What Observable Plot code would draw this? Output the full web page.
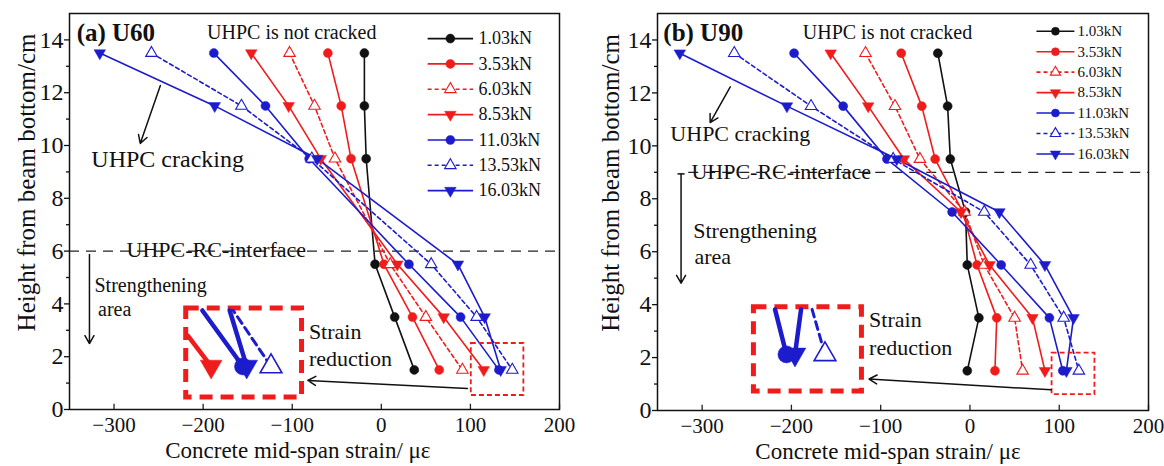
<!DOCTYPE html>
<html><head><meta charset="utf-8">
<script src="https://cdn.jsdelivr.net/npm/d3@7"></script>
<script src="https://cdn.jsdelivr.net/npm/@observablehq/plot@0.6"></script>
<style>
body{margin:0;background:#fff;}
#wrap{display:flex;width:1164px;height:466px;overflow:hidden;background:#fff;}
</style></head><body><div id="wrap"></div>
<script>
// ---------- data ----------
const loads = ["1.03kN","3.53kN","6.03kN","8.53kN","11.03kN","13.53kN","16.03kN"];
const xTicks = [-300,-200,-100,0,100,200];
const yTicks = [0,2,4,6,8,10,12,14];
const yMinor = [1,3,5,7,9,11,13];

// (a) U60
const u60Heights = [13.5, 11.5, 9.5, 5.5, 3.5, 1.5];
const u60_103 = [-19, -19, -17, -7, 15, 37];
const u60_353 = [-60, -45, -34, 3, 35, 65];
const u60_603 = [-103, -75, -52, 10, 50, 91];
const u60_853 = [-146, -104, -68, 18, 70, 115];
const u60_1103 = [-188, -130, -81, 31, 89, 132];
const u60_1353 = [-258, -157, -78, 56, 107, 147];
const u60_1603 = [-316, -187, -72, 86, 116, 134];

// (b) U90
const u90Heights = [13.5, 11.5, 9.5, 7.5, 5.5, 3.5, 1.5];
const u90_103 = [-36, -25, -22, -5, -3, 10, -3];
const u90_353 = [-77, -54, -39, -8, 8, 30, 28];
const u90_603 = [-117, -84, -56, -6, 16, 50, 59];
const u90_853 = [-156, -114, -74, -10, 22, 70, 84];
const u90_1103 = [-197, -142, -93, -20, 35, 89, 104];
const u90_1353 = [-264, -178, -86, 16, 68, 105, 122];
const u90_1603 = [-325, -205, -82, 33, 84, 116, 108];

// ---------- styles ----------
const BLACK = "#111", RED = "#f01c1c", BLUE = "#1c1ccc";
const invTri = {draw(ctx, size){const y = Math.sqrt(size/(Math.sqrt(3)*3)); ctx.moveTo(0, 2*y); ctx.lineTo(-Math.sqrt(3)*y, -y); ctx.lineTo(Math.sqrt(3)*y, -y); ctx.closePath();}};
const styles = [
  {stroke: BLACK, dash: null, symbol: "circle", open: false},
  {stroke: RED, dash: null, symbol: "circle", open: false},
  {stroke: RED, dash: "4,3", symbol: "triangle", open: true},
  {stroke: RED, dash: null, symbol: invTri, open: false},
  {stroke: BLUE, dash: null, symbol: "circle", open: false},
  {stroke: BLUE, dash: "4,3", symbol: "triangle", open: true},
  {stroke: BLUE, dash: null, symbol: invTri, open: false},
];
const FONT = "'Liberation Serif','Times New Roman',serif";

function clipSeg(p, q, b) {
  let t0 = 0, t1 = 1;
  const dx = q.x - p.x, dy = q.y - p.y;
  const checks = [[-dx, p.x - b.x1], [dx, b.x2 - p.x], [-dy, p.y - b.y1], [dy, b.y2 - p.y]];
  for (const [pp, qq] of checks) {
    if (pp === 0) { if (qq < 0) return null; }
    else { const r = qq / pp; if (pp < 0) { if (r > t1) return null; if (r > t0) t0 = r; } else { if (r < t0) return null; if (r < t1) t1 = r; } }
  }
  return [{x: p.x + t0*dx, y: p.y + t0*dy}, {x: p.x + t1*dx, y: p.y + t1*dy}];
}

function dotMarks(data, s, r, extra = {}) {
  return Plot.dot(data, {x: "x", y: "y", symbol: s.symbol, r: s.symbol === "circle" ? r : r * 0.95,
    fill: s.open ? "white" : s.stroke, stroke: s.stroke, strokeWidth: s.open ? 1.1 : 0.5, ...extra});
}

function panel(cfg) {
  const marks = [];
  const rows = [];
  cfg.series.forEach((vals, i) => vals.forEach((v, j) => rows.push({i, x: v, y: cfg.heights[j]})));

  // interface dashed line
  marks.push(Plot.ruleY([cfg.ifaceY], {x1: cfg.ifaceX1, x2: 200, stroke: "#222", strokeWidth: 1.3, strokeDasharray: "10,7"}));
  // axes
  marks.push(Plot.ruleX(xTicks, {y1: 0, y2: 0.2, stroke: "#222", strokeWidth: 1.3}));
  marks.push(Plot.axisX(xTicks, {tickSize: 0, tickPadding: 8, fontSize: 21, label: null}));
  marks.push(Plot.axisY(yTicks, {tickSize: 5, tickPadding: 1, fontSize: 24, label: null, strokeWidth: 1.3}));
  marks.push(Plot.axisY(yMinor, {tickSize: 3, tickFormat: () => "", label: null, strokeWidth: 1.3}));

  // series lines and markers
  styles.forEach((s, i) => {
    const d = rows.filter(r => r.i === i);
    marks.push(Plot.line(d, {x: "x", y: "y", stroke: s.stroke, strokeWidth: 1.6, strokeDasharray: s.dash}));
  });
  styles.forEach((s, i) => {
    const d = rows.filter(r => r.i === i);
    marks.push(dotMarks(d, s, 4.5));
  });

  // legend
  const L = cfg.legend;
  loads.forEach((name, i) => {
    const s = styles[i];
    const y = L.y0 - i * L.dy;
    marks.push(Plot.link([0], {x1: L.x1, x2: L.x2, y1: y, y2: y, stroke: s.stroke, strokeWidth: 1.6, strokeDasharray: s.dash}));
    marks.push(dotMarks([{x: (L.x1 + L.x2) / 2, y}], s, L.r));
    marks.push(Plot.text([name], {x: L.tx, y, text: d => d, textAnchor: "start", fontSize: L.font, fill: BLACK}));
  });

  // small box and inset
  const sb = cfg.smallBox, ib = cfg.insetBox, Z = cfg.zoom;
  marks.push(Plot.rect([0], {x1: sb.x1, x2: sb.x2, y1: sb.y1, y2: sb.y2, fill: "none", stroke: RED, strokeWidth: 1.8, strokeDasharray: "5,3"}));
  marks.push(Plot.rect([0], {x1: ib.x1, x2: ib.x2, y1: ib.y1, y2: ib.y2, fill: "white", stroke: RED, strokeWidth: 5, strokeDasharray: "13,8"}));
  const mag = p => ({x: Z.ax + (p.x - Z.cx) * Z.m, y: Z.ay + (p.y - Z.cy) * Z.m});
  const clipBox = {x1: ib.x1 + 2, x2: ib.x2 - 2, y1: ib.y1 + 0.08, y2: ib.y2 - 0.08};
  cfg.insetSeries.forEach(i => {
    const s = styles[i];
    const vals = cfg.series[i], n = vals.length;
    const p = mag({x: vals[n - 1], y: cfg.heights[n - 1]});
    const q = mag({x: vals[n - 2], y: cfg.heights[n - 2]});
    const seg = clipSeg(p, q, clipBox);
    if (seg) marks.push(Plot.line(seg, {x: "x", y: "y", stroke: s.stroke, strokeWidth: s.dash ? 3 : 4.5, strokeDasharray: s.dash ? "8,5" : null}));
  });
  cfg.insetSeries.forEach(i => {
    const s = styles[i];
    const vals = cfg.series[i], n = vals.length;
    const p = mag({x: vals[n - 1], y: cfg.heights[n - 1]});
    marks.push(dotMarks([p], s, 8.5, {strokeWidth: s.open ? 1.6 : 0.5}));
  });

  // annotation arrows
  cfg.arrows.forEach(a => marks.push(Plot.arrow([0], {x1: a[0], y1: a[1], x2: a[2], y2: a[3], stroke: BLACK, strokeWidth: 1.5, headLength: 9})));
  if (cfg.tee) marks.push(Plot.link([0], {x1: cfg.tee[0] - 4, x2: cfg.tee[0] + 4, y1: cfg.tee[1], y2: cfg.tee[1], stroke: BLACK, strokeWidth: 1.5}));

  // annotation texts
  cfg.texts.forEach(t => marks.push(Plot.text([t.t], {x: t.x, y: t.y, text: d => d, textAnchor: "start", fontSize: t.size, fontWeight: t.bold ? "bold" : "normal", fill: BLACK})));

  // axis titles (placed in the margins)
  marks.push(Plot.text(["Height from beam bottom/cm"], {x: cfg.ylab[0], y: cfg.ylab[1], text: d => d, rotate: -90, fontSize: 25, fill: BLACK}));
  marks.push(Plot.text(["Concrete mid-span strain/ με"], {x: cfg.xlab[0], y: cfg.xlab[1], text: d => d, fontSize: 23, fill: BLACK}));

  marks.push(Plot.frame({stroke: "#111", strokeWidth: 1.5}));

  return Plot.plot({
    width: 582, height: 466,
    marginLeft: cfg.ml, marginRight: cfg.mr, marginTop: 13, marginBottom: cfg.mb,
    x: {domain: [-350, 200]}, y: {domain: [0, 15]},
    style: {fontFamily: FONT, fontSize: "22px", color: "#111", background: "white", overflow: "visible"},
    marks
  });
}

const figA = panel({
  heights: u60Heights,
  series: [u60_103, u60_353, u60_603, u60_853, u60_1103, u60_1353, u60_1603],
  ml: 69, mr: 23, mb: 57,
  xlab: [-93.7, -1.55], ylab: [-398, 8.6],
  ifaceY: 6, ifaceX1: -350,
  legend: {x1: 52, x2: 103, tx: 109, y0: 14.05, dy: 0.96, font: 18, r: 4.5},
  smallBox: {x1: 101, x2: 160, y1: 0.53, y2: 2.5},
  insetBox: {x1: -219, x2: -89, y1: 0.45, y2: 3.83},
  zoom: {cx: 115, cy: 1.5, ax: -191, ay: 1.63, m: 2.1},
  insetSeries: [3, 4, 5, 6],
  arrows: [[-248, 12.27, -270.6, 10.08], [-327.6, 5.87, -327.6, 2.5], [96.7, 0.8, -82.5, 1.1]],
  tee: null,
  texts: [
    {t: "(a) U60", x: -342, y: 14.28, size: 25, bold: true},
    {t: "UHPC is not cracked", x: -195.6, y: 14.28, size: 20},
    {t: "UHPC cracking", x: -325.5, y: 9.47, size: 24},
    {t: "UHPC-RC-interface", x: -286, y: 6.06, size: 22},
    {t: "Strengthening", x: -322, y: 4.7, size: 20},
    {t: "area", x: -318, y: 3.79, size: 20},
    {t: "Strain", x: -81.3, y: 2.92, size: 22},
    {t: "reduction", x: -81.3, y: 1.9, size: 22}
  ]
});

const figB = panel({
  heights: u90Heights,
  series: [u90_103, u90_353, u90_603, u90_853, u90_1103, u90_1353, u90_1603],
  ml: 75, mr: 16, mb: 56,
  xlab: [-91.8, -1.55], ylab: [-402, 8.6],
  ifaceY: 9, ifaceX1: -315,
  legend: {x1: 74.5, x2: 117, tx: 120.5, y0: 14.33, dy: 0.773, font: 15, r: 4},
  smallBox: {x1: 92, x2: 140, y1: 0.6, y2: 2.17},
  insetBox: {x1: -242, x2: -121, y1: 0.72, y2: 3.9},
  zoom: {cx: 106, cy: 1.5, ax: -200.8, ay: 2.12, m: 2.4},
  insetSeries: [4, 5, 6],
  arrows: [[-268.5, 12.23, -291, 10.88], [-323.6, 8.94, -323.6, 4.81], [91, 0.78, -113, 1.19]],
  tee: [-323.6, 8.94],
  texts: [
    {t: "(b) U90", x: -343.5, y: 14.28, size: 25, bold: true},
    {t: "UHPC is not cracked", x: -187.3, y: 14.28, size: 20},
    {t: "UHPC cracking", x: -335.6, y: 10.45, size: 22},
    {t: "UHPC-RC-interface", x: -312, y: 9.02, size: 22},
    {t: "Strengthening", x: -310, y: 6.78, size: 22},
    {t: "area", x: -308.6, y: 5.8, size: 22},
    {t: "Strain", x: -113, y: 3.41, size: 22},
    {t: "reduction", x: -113, y: 2.35, size: 22}
  ]
});

document.getElementById("wrap").append(figA, figB);
</script></body></html>
